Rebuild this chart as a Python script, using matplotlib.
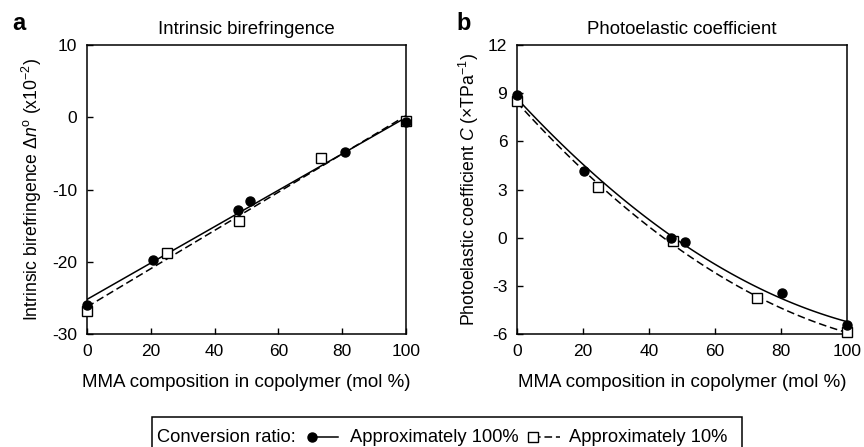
import numpy as np
import matplotlib
matplotlib.use('Agg')
import matplotlib.pyplot as plt
from matplotlib.lines import Line2D
from matplotlib.patches import Rectangle

plt.rcParams['font.family'] = 'Liberation Sans'
plt.rcParams['mathtext.fontset'] = 'custom'
plt.rcParams['mathtext.rm'] = 'Liberation Sans'
plt.rcParams['mathtext.it'] = 'Liberation Sans:italic'
plt.rcParams['axes.unicode_minus'] = False

# (a) intrinsic birefringence, x10^-2
mma_a_100 = [0, 20.7, 47.3, 51.1, 81.0, 100]
dn_a_100 = [-26.0, -19.8, -12.8, -11.6, -4.8, -0.7]
mma_a_10 = [0, 25.0, 47.6, 73.2, 100]
dn_a_10 = [-26.8, -18.8, -14.4, -5.7, -0.5]

# (b) photoelastic coefficient, xTPa^-1
mma_b_100 = [0, 20.2, 46.6, 50.8, 80.2, 100]
c_b_100 = [8.9, 4.15, 0.0, -0.3, -3.45, -5.45]
mma_b_10 = [0, 24.4, 47.4, 72.6, 100]
c_b_10 = [8.5, 3.15, -0.2, -3.75, -5.9]

W, H = 864, 447
fig = plt.figure(figsize=(W / 100, H / 100), dpi=100)

def px_box(l, r, t, b):
    return [l / W, 1 - b / H, (r - l) / W, (b - t) / H]

ax_a = fig.add_axes(px_box(87, 406, 45, 334))
ax_b = fig.add_axes(px_box(517, 847, 45, 334))

xx = np.linspace(0, 100, 101)

def draw_panel(ax, x1, y1, x2, y2, deg):
    # trend lines fitted to the points, like in the paper
    p1 = np.polyfit(x1, y1, deg)
    p2 = np.polyfit(x2, y2, deg)
    ax.plot(xx, np.polyval(p1, xx), color='black', lw=1.1, zorder=2)
    ax.plot(xx, np.polyval(p2, xx), color='black', lw=1.1, ls=(0, (5, 2.5)), zorder=2)
    ax.plot(x2, y2, ls='none', marker='s', ms=6.5, mfc='white', mec='black',
            mew=1.0, clip_on=False, zorder=3)
    ax.plot(x1, y1, ls='none', marker='o', ms=6.5, color='black',
            clip_on=False, zorder=4)

draw_panel(ax_a, mma_a_100, dn_a_100, mma_a_10, dn_a_10, 1)
draw_panel(ax_b, mma_b_100, c_b_100, mma_b_10, c_b_10, 2)

ax_a.set_ylim(-30, 10)
ax_a.set_yticks([-30, -20, -10, 0, 10])
ax_b.set_ylim(-6, 12)
ax_b.set_yticks([-6, -3, 0, 3, 6, 9, 12])

for ax in (ax_a, ax_b):
    ax.set_xlim(0, 100)
    ax.set_xticks([0, 20, 40, 60, 80, 100])
    ax.tick_params(direction='in', length=4, width=1, labelsize=12.5, pad=7)
    for sp in ax.spines.values():
        sp.set_linewidth(1.1)
    ax.set_xlabel('MMA composition in copolymer (mol %)', fontsize=13.5, labelpad=11)

ax_a.set_ylabel(r'Intrinsic birefringence $\mathit{\Delta n}^{\mathrm{o}}$ (x10$^{-2}$)',
                fontsize=12.7, labelpad=6)
ax_b.set_ylabel(r'Photoelastic coefficient $\mathit{C}$ (×TPa$^{-1}$)',
                fontsize=12.7, labelpad=5)
ax_a.set_title('Intrinsic birefringence', fontsize=13.4, pad=8)
ax_b.set_title('Photoelastic coefficient', fontsize=13.4, pad=8)

fig.text(12 / W, 1 - 24 / H, 'a', fontsize=17, fontweight='bold', va='center')
fig.text(456 / W, 1 - 24 / H, 'b', fontsize=17, fontweight='bold', va='center')

# legend box along the bottom
ly = 1 - 437 / H
fs_leg = 13.2
fig.add_artist(Rectangle((152 / W, 1 - 450 / H), 590 / W, 33 / H, fill=False,
                         lw=1.1, ec='black', transform=fig.transFigure))
fig.text(157 / W, ly, 'Conversion ratio:', fontsize=fs_leg, va='center')
fig.add_artist(Line2D([312 / W, 338 / W], [ly, ly], color='black', lw=1.1))
fig.add_artist(Line2D([312 / W], [ly], marker='o', ms=6.5, color='black'))
fig.text(350 / W, ly, 'Approximately 100%', fontsize=fs_leg, va='center')
fig.add_artist(Line2D([533 / W, 560 / W], [ly, ly], color='black', lw=1.1,
                      ls=(0, (5, 2.5))))
fig.add_artist(Line2D([533 / W], [ly], marker='s', ms=6.5, mfc='white', mec='black'))
fig.text(569 / W, ly, 'Approximately 10%', fontsize=fs_leg, va='center')

fig.savefig('out.png', dpi=100)
